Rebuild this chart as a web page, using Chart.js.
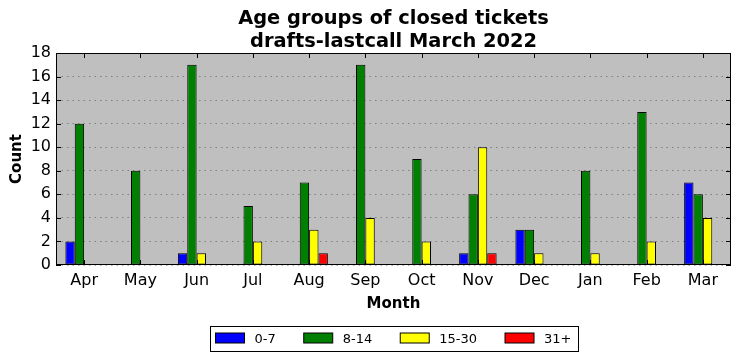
<!DOCTYPE html>
<html>
<head>
<meta charset="utf-8">
<script src="https://cdn.jsdelivr.net/npm/chart.js@4/dist/chart.umd.min.js"></script>
<style>
  html, body { margin: 0; padding: 0; background: #ffffff; }
  #wrap { width: 740px; height: 361px; }
</style>
</head>
<body>
<div id="wrap"><canvas id="c" width="740" height="361"></canvas></div>
<script>
const months = ["Apr", "May", "Jun", "Jul", "Aug", "Sep", "Oct", "Nov", "Dec", "Jan", "Feb", "Mar"];
const age0to7   = [2, 0, 1, 0, 0, 0, 0, 1, 3, 0, 0, 7];
const age8to14  = [12, 8, 17, 5, 7, 17, 9, 6, 3, 8, 13, 6];
const age15to30 = [0, 0, 1, 2, 3, 4, 2, 10, 1, 1, 2, 4];
const age31plus = [0, 0, 0, 0, 1, 0, 0, 1, 0, 0, 0, 0];
const yTicks = [0, 2, 4, 6, 8, 10, 12, 14, 16, 18];

const FONT = "'DejaVu Sans', sans-serif";

const frame = {
  id: 'frame',
  beforeDraw(chart) {
    const a = chart.chartArea, ctx = chart.ctx;
    ctx.save();
    ctx.fillStyle = '#bfbfbf';
    ctx.fillRect(a.left, a.top, a.right - a.left, a.bottom - a.top);
    ctx.restore();
  },
  afterDatasetsDraw(chart) {
    const a = chart.chartArea, ctx = chart.ctx;
    const xs = chart.scales.x, ys = chart.scales.y;
    ctx.save();
    ctx.strokeStyle = '#000';
    ctx.lineWidth = 1;
    ctx.beginPath();
    const L = 5;
    months.forEach((m, i) => {
      const px = Math.round(xs.getPixelForValue(i)) + 0.5;
      ctx.moveTo(px, a.top); ctx.lineTo(px, a.top + L);
      ctx.moveTo(px, a.bottom); ctx.lineTo(px, a.bottom - L);
    });
    yTicks.forEach(v => {
      const py = Math.round(ys.getPixelForValue(v)) + 0.5;
      ctx.moveTo(a.left, py); ctx.lineTo(a.left + L, py);
      ctx.moveTo(a.right, py); ctx.lineTo(a.right - L, py);
    });
    ctx.stroke();
    ctx.strokeRect(Math.round(a.left) + 0.5, Math.round(a.top) + 0.5,
                   Math.round(a.right - a.left) - 1, Math.round(a.bottom - a.top) - 1);
    ctx.restore();
  },
  afterDraw(chart) {
    const a = chart.chartArea, ctx = chart.ctx;
    const ds = chart.data.datasets;
    ctx.save();
    ctx.font = "13px " + FONT;
    const sw = 29, sh = 10, gapText = 10, gapItem = 28, padL = 5, padR = 7;
    const widths = ds.map(d => ctx.measureText(d.label).width);
    let total = padL + padR;
    widths.forEach((w, i) => { total += sw + gapText + w + (i < widths.length - 1 ? gapItem : 0); });
    const cx = (a.left + a.right) / 2;
    const bx = Math.round(cx - total / 2) + 0.5, by = 326.5, bh = 25;
    ctx.fillStyle = '#fff';
    ctx.fillRect(bx, by, total, bh);
    ctx.strokeStyle = '#000';
    ctx.lineWidth = 1;
    ctx.strokeRect(bx, by, Math.round(total), bh);
    let x = bx + padL;
    ds.forEach((d, i) => {
      ctx.fillStyle = d.backgroundColor;
      ctx.fillRect(x, by + 6.5, sw, sh);
      ctx.strokeRect(x, by + 6.5, sw, sh);
      ctx.fillStyle = '#000';
      ctx.textBaseline = 'middle';
      ctx.textAlign = 'left';
      ctx.fillText(d.label, x + sw + gapText, by + bh / 2 + 0.5);
      x += sw + gapText + widths[i] + gapItem;
    });
    ctx.restore();
  }
};

const barCommon = { borderColor: '#000000', borderWidth: 1, borderSkipped: false,
                    categoryPercentage: 2 / 3, barPercentage: 1.0 };

new Chart(document.getElementById('c'), {
  type: 'bar',
  data: {
    labels: months,
    datasets: [
      Object.assign({ label: '0-7',   data: age0to7,   backgroundColor: '#0000ff' }, barCommon),
      Object.assign({ label: '8-14',  data: age8to14,  backgroundColor: '#008000' }, barCommon),
      Object.assign({ label: '15-30', data: age15to30, backgroundColor: '#ffff00' }, barCommon),
      Object.assign({ label: '31+',   data: age31plus, backgroundColor: '#ff0000' }, barCommon)
    ]
  },
  options: {
    responsive: false,
    animation: false,
    devicePixelRatio: 1,
    layout: { padding: { left: 0, right: 9, top: 0, bottom: 48 } },
    plugins: {
      legend: { display: false },
      tooltip: { enabled: false },
      title: {
        display: true,
        fullSize: false,
        text: ['Age groups of closed tickets', 'drafts-lastcall March 2022'],
        color: '#000',
        font: { family: FONT, size: 19.4, weight: 'bold', lineHeight: 23 / 19.4 },
        padding: { top: 7, bottom: 0 }
      }
    },
    scales: {
      x: {
        offset: true,
        grid: { display: false, drawTicks: false },
        border: { display: false },
        ticks: { color: '#000', font: { family: FONT, size: 16 }, padding: 6, maxRotation: 0, autoSkip: false },
        title: { display: true, text: 'Month', color: '#000',
                 font: { family: FONT, size: 15, weight: 'bold' }, padding: { top: 0, bottom: 0 } },
        afterFit(s) { s.height = 48; }
      },
      y: {
        min: 0, max: 18,
        afterBuildTicks(s) { s.ticks = yTicks.map(v => ({ value: v })); },
        grid: { color: 'rgba(0,0,0,0.32)', lineWidth: 1, drawTicks: false },
        border: { display: false, dash: [1.5, 4] },
        ticks: { color: '#000', font: { family: FONT, size: 16 }, padding: 5 },
        title: { display: true, text: 'Count', color: '#000',
                 font: { family: FONT, size: 15, weight: 'bold' }, padding: { top: 8, bottom: 0 } },
        afterFit(s) { s.width = 56; }
      }
    }
  },
  plugins: [frame]
});
</script>
</body>
</html>
